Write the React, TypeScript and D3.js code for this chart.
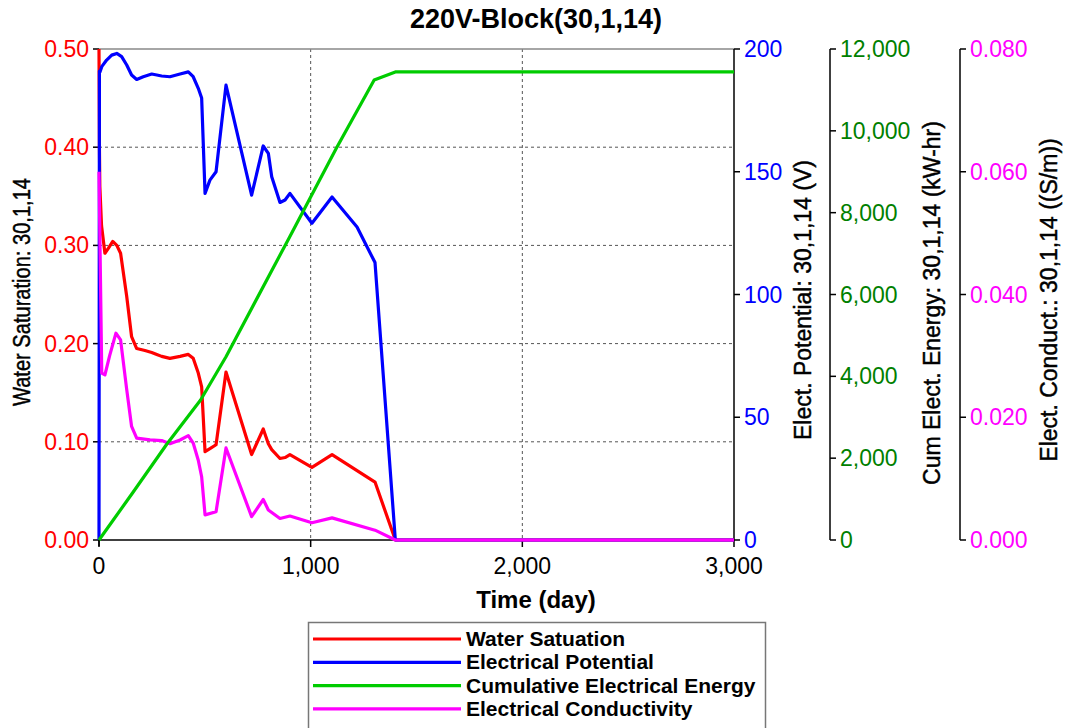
import React from "react";
import * as d3 from "d3";

// Time series for grid block (30,1,14): [day, value]
const waterSaturation: [number, number][] = [
  [0, 0.5], [2, 0.4], [4, 0.36], [12, 0.32], [28, 0.292], [44, 0.297], [65, 0.304],
  [84, 0.3], [102, 0.292], [131, 0.248], [154, 0.207], [178, 0.195], [217, 0.193],
  [249, 0.191], [273, 0.189], [296, 0.187], [335, 0.185], [383, 0.187], [422, 0.189],
  [445, 0.185], [469, 0.17], [485, 0.156], [501, 0.09], [524, 0.093], [553, 0.097],
  [600, 0.171], [721, 0.087], [776, 0.113], [800, 0.098], [816, 0.092], [855, 0.083],
  [879, 0.084], [902, 0.087], [1006, 0.074], [1101, 0.087], [1304, 0.059], [1400, 0],
  [3000, 0],
];

const electricalPotential: [number, number][] = [
  [0, 0], [2, 191], [5, 190.7], [13, 192.8], [36, 195.5], [60, 197.5], [84, 198.2],
  [107, 196.9], [131, 193.5], [154, 189.4], [178, 187.6], [209, 188.7], [249, 189.8],
  [273, 189.4], [296, 189], [335, 188.7], [383, 189.8], [422, 190.7], [445, 188.7],
  [469, 184], [485, 180], [501, 141.2], [524, 146.6], [553, 150], [600, 185.3],
  [721, 140.5], [776, 160.5], [800, 157.5], [816, 148], [855, 137.5], [879, 138.5],
  [902, 141.2], [1006, 129], [1101, 139.7], [1219, 127.5], [1304, 113], [1400, 0],
  [3000, 0],
];

const cumulativeEnergy: [number, number][] = [
  [0, 0], [160, 1160], [320, 2340], [480, 3420], [600, 4480], [900, 7400],
  [1000, 8380], [1120, 9560], [1300, 11240], [1400, 11440], [3000, 11440],
];

const electricalConductivity: [number, number][] = [
  [0, 0.06], [13, 0.0272], [28, 0.0269], [50, 0.03], [80, 0.0337], [102, 0.0326],
  [131, 0.0245], [154, 0.0185], [178, 0.0166], [241, 0.0163], [296, 0.0162],
  [335, 0.0157], [383, 0.0163], [422, 0.017], [445, 0.0158], [469, 0.013],
  [485, 0.0103], [501, 0.0041], [553, 0.0046], [600, 0.015], [721, 0.0038],
  [776, 0.0066], [800, 0.0049], [855, 0.0035], [902, 0.0039], [1006, 0.0028],
  [1101, 0.0036], [1304, 0.0016], [1400, 0], [3000, 0],
];

const timeTicks = [0, 1000, 2000, 3000];
const saturationTicks = [0, 0.1, 0.2, 0.3, 0.4, 0.5];
const potentialTicks = [0, 50, 100, 150, 200];
const energyTicks = [0, 2000, 4000, 6000, 8000, 10000, 12000];
const conductivityTicks = [0, 0.02, 0.04, 0.06, 0.08];

const legendItems = [
  { label: "Water Satuation", color: "#ff0000" },
  { label: "Electrical Potential", color: "#0000ff" },
  { label: "Cumulative Electrical Energy", color: "#00cc00" },
  { label: "Electrical Conductivity", color: "#ff00ff" },
];

const W = 1072;
const H = 728;
const left = 99;
const right = 734;
const top = 49;
const bottom = 540;
const FONT = "'Liberation Sans', Arial, Helvetica, sans-serif";

export default function App() {
  const x = d3.scaleLinear().domain([0, 3000]).range([left, right]);
  const ySat = d3.scaleLinear().domain([0, 0.5]).range([bottom, top]);
  const yPot = d3.scaleLinear().domain([0, 200]).range([bottom, top]);
  const yEn = d3.scaleLinear().domain([0, 12000]).range([bottom, top]);
  const yCond = d3.scaleLinear().domain([0, 0.08]).range([bottom, top]);

  const lineFor = (y: d3.ScaleLinear<number, number>) =>
    d3.line<[number, number]>().x((d) => x(d[0])).y((d) => y(d[1]));

  const fmtComma = d3.format(",");
  const tickFs = 23;

  const sideAxis = (
    ax: number,
    scale: d3.ScaleLinear<number, number>,
    ticks: number[],
    fmt: (v: number) => string,
    color: string,
    key: string
  ) => (
    <g key={key}>
      <line x1={ax} x2={ax} y1={top} y2={bottom} stroke="#000" strokeWidth={1.5} />
      {ticks.map((t) => (
        <g key={t}>
          <line x1={ax} x2={ax + 6} y1={scale(t)} y2={scale(t)} stroke="#000" strokeWidth={1.5} />
          <text
            x={ax + 10}
            y={scale(t)}
            dy="0.35em"
            fill={color}
            fontSize={tickFs}
            fontFamily={FONT}
          >
            {fmt(t)}
          </text>
        </g>
      ))}
    </g>
  );

  const titleStyle = { stroke: "#000", strokeWidth: 0.45 };

  return (
    <svg
      width={W}
      height={H}
      style={{ position: "absolute", left: 0, top: 0, display: "block", background: "#fff" }}
    >
      <rect x={0} y={0} width={W} height={H} fill="#fff" />

      {/* title */}
      <text x={536} y={28} textAnchor="middle" fontSize={27} fontWeight="bold" fontFamily={FONT}>
        220V-Block(30,1,14)
      </text>

      {/* grid */}
      {saturationTicks.slice(1, -1).map((t) => (
        <line
          key={"h" + t}
          x1={left}
          x2={right}
          y1={ySat(t)}
          y2={ySat(t)}
          stroke="#555"
          strokeWidth={1}
          strokeDasharray="3,3"
        />
      ))}
      {timeTicks.slice(1, -1).map((t) => (
        <line
          key={"v" + t}
          x1={x(t)}
          x2={x(t)}
          y1={top}
          y2={bottom}
          stroke="#555"
          strokeWidth={1}
          strokeDasharray="3,3"
        />
      ))}
      <line x1={left} x2={right} y1={top} y2={top} stroke="#888" strokeWidth={1.5} />

      {/* left axis */}
      <line x1={left} x2={left} y1={top} y2={bottom + 6} stroke="#000" strokeWidth={1.5} />
      {saturationTicks.map((t) => (
        <g key={"s" + t}>
          <line x1={left - 6} x2={left} y1={ySat(t)} y2={ySat(t)} stroke="#000" strokeWidth={1.5} />
          <text
            x={left - 10}
            y={ySat(t)}
            dy="0.35em"
            textAnchor="end"
            fill="#ff0000"
            fontSize={tickFs}
            fontFamily={FONT}
          >
            {d3.format(".2f")(t)}
          </text>
        </g>
      ))}
      <text
        transform={`translate(30,292) rotate(-90)`}
        textAnchor="middle"
        fontSize={23}
        fontFamily={FONT}
        textLength={228}
        lengthAdjust="spacingAndGlyphs"
        style={titleStyle}
      >
        Water Saturation: 30,1,14
      </text>

      {/* bottom axis */}
      <line x1={left} x2={right} y1={bottom} y2={bottom} stroke="#000" strokeWidth={1.5} />
      {timeTicks.map((t) => (
        <g key={"t" + t}>
          <line x1={x(t)} x2={x(t)} y1={bottom} y2={bottom + 7} stroke="#000" strokeWidth={1.5} />
          <text x={x(t)} y={574} textAnchor="middle" fontSize={tickFs} fontFamily={FONT}>
            {fmtComma(t)}
          </text>
        </g>
      ))}
      <text x={536} y={608} textAnchor="middle" fontSize={24} fontWeight="bold" fontFamily={FONT}>
        Time (day)
      </text>

      {/* right-hand axes */}
      {sideAxis(right, yPot, potentialTicks, (v) => String(v), "#0000ff", "pot")}
      {sideAxis(830, yEn, energyTicks, fmtComma, "#008000", "en")}
      {sideAxis(960, yCond, conductivityTicks, d3.format(".3f"), "#ff00ff", "cond")}
      <text
        transform={`translate(811,300) rotate(-90)`}
        textAnchor="middle"
        fontSize={23}
        fontFamily={FONT}
        style={titleStyle}
      >
        Elect. Potential: 30,1,14 (V)
      </text>
      <text
        transform={`translate(940,303) rotate(-90)`}
        textAnchor="middle"
        fontSize={23}
        fontFamily={FONT}
        style={titleStyle}
      >
        Cum Elect. Energy: 30,1,14 (kW-hr)
      </text>
      <text
        transform={`translate(1057,300) rotate(-90)`}
        textAnchor="middle"
        fontSize={23}
        fontFamily={FONT}
        style={titleStyle}
      >
        Elect. Conduct.: 30,1,14 ((S/m))
      </text>

      {/* series */}
      <g fill="none" strokeWidth={3.2} strokeLinejoin="round">
        <path d={lineFor(ySat)(waterSaturation) ?? ""} stroke="#ff0000" />
        <path d={lineFor(yPot)(electricalPotential) ?? ""} stroke="#0000ff" />
        <path d={lineFor(yCond)(electricalConductivity) ?? ""} stroke="#ff00ff" />
        <path d={lineFor(yEn)(cumulativeEnergy) ?? ""} stroke="#00cc00" />
      </g>

      {/* legend */}
      <rect x={308.5} y={622.5} width={457} height={120} fill="#fff" stroke="#777" strokeWidth={1.5} />
      {legendItems.map((item, i) => {
        const ly = 639 + i * 23.3;
        return (
          <g key={item.label}>
            <line x1={313} x2={461} y1={ly} y2={ly} stroke={item.color} strokeWidth={3.2} />
            <text x={466} y={ly + 7} fontSize={21} fontWeight="bold" fontFamily={FONT}>
              {item.label}
            </text>
          </g>
        );
      })}
    </svg>
  );
}
